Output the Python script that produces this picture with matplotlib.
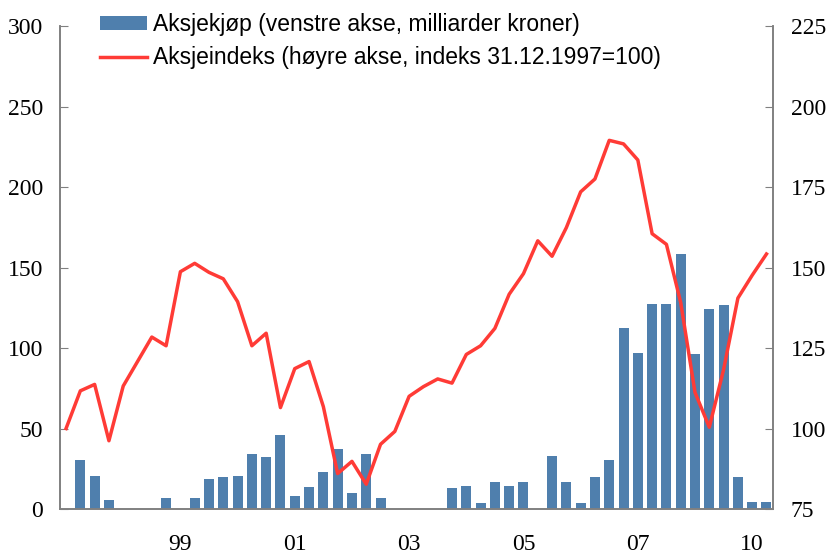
import numpy as np
import matplotlib.pyplot as plt

# kvartalstall, aksjekjøp fra 1998K1 (milliarder kroner)
aksjekjop = [30.7, 20.8, 5.7, 0, 0, 0, 6.6, 0, 6.6, 18.6,
             19.7, 20.8, 34, 32, 46, 7.9, 13.4, 23, 37.3, 10.1,
             34, 6.6, 0, 0, 0, 0, 13.2, 14.3, 3.5, 16.7,
             14.3, 16.7, 0, 32.7, 16.7, 3.5, 19.7, 30.7, 112.3, 97.1,
             127.6, 127.6, 158.3, 96, 124.3, 126.8, 19.7, 4.6, 4.6]

# aksjeindeks fra 31.12.1997 (=100)
aksjeindeks = [100, 111.7, 113.7, 96.2, 113.2, 120.8, 128.4, 125.7, 148.7, 151.3,
               148.5, 146.5, 139.4, 125.7, 129.6, 106.5, 118.6, 120.8, 106.8, 86,
               89.8, 82.7, 95.1, 99.1, 110, 113, 115.4, 114.1, 123, 125.7,
               131.1, 141.7, 148.1, 158.3, 153.5, 162.4, 173.5, 177.5, 189.5, 188.4,
               183.4, 160.5, 157.2, 139.1, 111.2, 100.4, 118.3, 140.5, 147.6, 154.2]

tick_pos = [8, 16, 24, 32, 40, 48]
tick_labels = ['99', '01', '03', '05', '07', '10']

bar_color = '#4F7FAD'
line_color = '#FF3B36'
spine_color = '#808080'

fig = plt.figure(figsize=(8.27, 5.54), dpi=100)
ax = fig.add_axes([0.0726, 0.0812, 0.862, 0.8718])
ax2 = ax.twinx()

x_line = np.arange(len(aksjeindeks))
x_bar = np.arange(1, len(aksjekjop) + 1)

bars = ax.bar(x_bar, aksjekjop, width=0.7, color=bar_color, zorder=2)
line, = ax2.plot(x_line, aksjeindeks, color=line_color, lw=2.5, zorder=3)

ax.set_xlim(-0.42, 49.45)
ax.set_ylim(0, 300)
ax2.set_ylim(75, 225)
ax.set_yticks(np.arange(0, 301, 50))
ax2.set_yticks(np.arange(75, 226, 25))
ax.set_xticks(tick_pos)
ax.set_xticklabels(tick_labels)

for a in (ax, ax2):
    for s in a.spines.values():
        s.set_color(spine_color)
        s.set_linewidth(1.2)
    a.spines['top'].set_visible(False)

ax.tick_params(axis='y', direction='in', length=6, color=spine_color,
               labelsize=17, pad=12)
ax2.tick_params(axis='y', direction='in', length=6, color=spine_color,
                labelsize=17, pad=13)
ax.tick_params(axis='x', length=0, labelsize=17, pad=18)

for lab in ax.get_xticklabels() + ax.get_yticklabels() + ax2.get_yticklabels():
    lab.set_fontfamily('Liberation Serif')

leg = fig.legend([bars, line],
                 ['Aksjekjøp (venstre akse, milliarder kroner)',
                  'Aksjeindeks (høyre akse, indeks 31.12.1997=100)'],
                 loc='upper left', bbox_to_anchor=(100 / 827, 1 - 13 / 554),
                 frameon=False, borderpad=0, borderaxespad=0,
                 handlelength=2.05, handleheight=0.6, handletextpad=0.26,
                 labelspacing=0.45,
                 prop={'family': 'Liberation Sans', 'size': 16.5})

fig.savefig('out.png', dpi=100)
